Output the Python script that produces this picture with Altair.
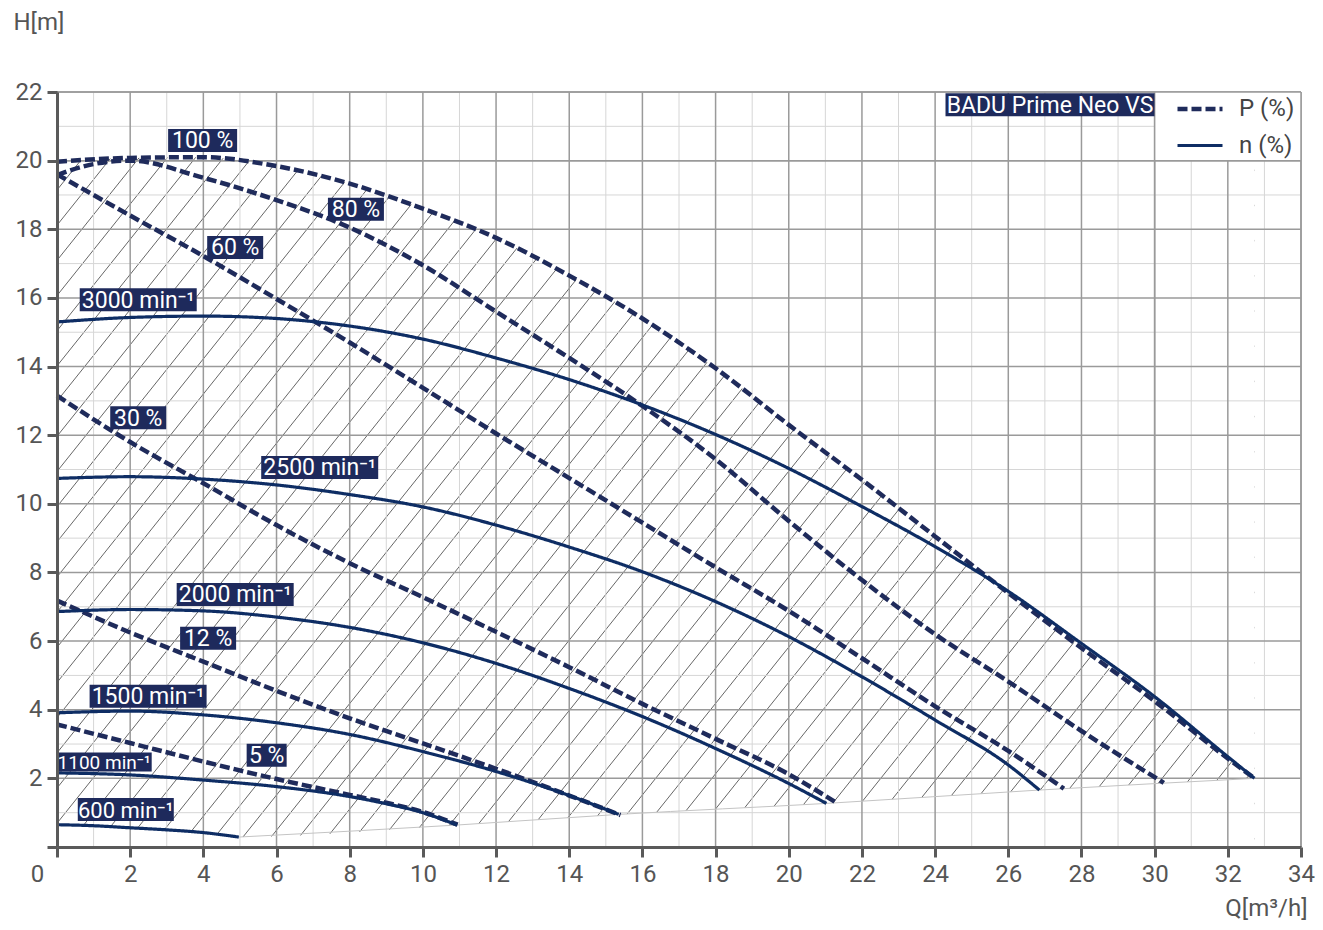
import altair as alt
import pandas as pd

# ---------------- data ----------------
# Power curves P (%) - dashed
P100_Q = [0, 2, 4, 6, 8, 10, 12, 14, 16, 18, 20, 22, 24, 26, 28, 30, 32, 32.73]
P100_H = [19.97, 20.08, 20.10, 19.84, 19.33, 18.60, 17.75, 16.65, 15.40, 13.95, 12.30, 10.70, 9.05, 7.40, 5.80, 4.25, 2.58, 2.00]
P80_Q = [0, 1, 2, 4, 6, 8, 10, 12, 14, 16, 18, 20, 22, 24, 26, 28, 30.25]
P80_H = [19.58, 19.90, 20.00, 19.50, 18.85, 18.05, 16.95, 15.60, 14.25, 12.85, 11.30, 9.50, 7.78, 6.20, 4.82, 3.38, 1.87]
P60_Q = [0, 2, 4, 6, 8, 10, 12, 14, 16, 18, 20, 22, 24, 26, 27.52]
P60_H = [19.60, 18.40, 17.22, 15.97, 14.70, 13.38, 12.05, 10.75, 9.45, 8.15, 6.88, 5.50, 4.10, 2.80, 1.70]
P30_Q = [0, 2, 4, 6, 8, 10, 12, 14, 16, 18, 20, 21.26]
P30_H = [13.15, 11.80, 10.60, 9.38, 8.27, 7.28, 6.27, 5.24, 4.17, 3.15, 2.12, 1.32]
P12_Q = [0, 2, 4, 6, 8, 10, 12, 14, 15.4]
P12_H = [7.18, 6.25, 5.40, 4.55, 3.75, 3.02, 2.28, 1.50, 0.93]
P5_Q = [0, 2, 4, 6, 8, 9, 10, 10.95]
P5_H = [3.57, 3.03, 2.49, 1.98, 1.52, 1.29, 1.02, 0.65]

# Speed curves n - solid
N3000_Q = [0, 2, 4, 6, 8, 10, 12, 14, 16, 18, 20, 22, 24, 26, 28, 30, 32, 32.73]
N3000_H = [15.30, 15.43, 15.47, 15.40, 15.18, 14.80, 14.25, 13.62, 12.88, 12.02, 11.03, 9.92, 8.75, 7.45, 5.93, 4.38, 2.63, 2.00]
N2500_Q = [0, 2, 4, 6, 8, 10, 12, 14, 16, 18, 20, 22, 24, 26, 26.85]
N2500_H = [10.74, 10.79, 10.72, 10.55, 10.27, 9.91, 9.38, 8.74, 8.02, 7.15, 6.13, 4.96, 3.70, 2.39, 1.66]
N2000_Q = [0, 2, 4, 6, 8, 10, 12, 14, 16, 18, 20, 21.03]
N2000_H = [6.86, 6.92, 6.88, 6.70, 6.40, 5.95, 5.35, 4.62, 3.80, 2.87, 1.85, 1.27]
N1500_Q = [0, 2, 4, 6, 8, 10, 12, 14, 15.35]
N1500_H = [3.91, 3.96, 3.85, 3.62, 3.28, 2.78, 2.20, 1.50, 0.95]
N1100_Q = [0, 2, 4, 6, 8, 9, 10, 10.93]
N1100_H = [2.16, 2.10, 1.95, 1.76, 1.47, 1.26, 1.00, 0.64]
N600_Q = [0, 1, 2, 3, 4, 4.97]
N600_H = [0.65, 0.62, 0.56, 0.50, 0.42, 0.29]

# Curve labels
LABEL_TEXT = ["100 %", "80 %", "60 %", "3000 min⁻¹", "30 %", "2500 min⁻¹", "2000 min⁻¹",
              "12 %", "1500 min⁻¹", "5 %", "1100 min⁻¹", "600 min⁻¹", "BADU Prime Neo VS"]
LABEL_Q = [3.98, 8.17, 4.87, 2.22, 2.22, 7.18, 4.87, 4.13, 2.49, 5.73, 1.29, 1.88, 27.14]
LABEL_H = [20.59, 18.58, 17.47, 15.95, 12.51, 11.06, 7.36, 6.08, 4.39, 2.67, 2.48, 1.09, 21.63]

# Axis ticks
X_MAJOR = list(range(0, 35, 2))
X_MINOR = list(range(1, 34, 2))
Y_MAJOR = list(range(0, 23, 2))
Y_MINOR = list(range(1, 22, 2))
KINDS = ["P (%)", "n (%)"]

# ---------------- styles ----------------
W, HGT = 1244, 755
FONT = "Roboto"
NAVY = "#1e2a5c"
DASH_COL = "#1f2b5b"
SOLID_COL = "#0e2d64"
TXT_GRAY = "#555555"
AX_GRAY = "#5a5a5a"
MAJOR_COL, MINOR_COL = "#9a9a9a", "#d6d6d6"
LEGEND_PANEL_Q = (30, 34)   # white panel behind the legend (grid cells)
LEGEND_PANEL_H = (20, 22)

# label box sizes (px) and font sizes
BOX_STYLE = {
    "100 %": (69, 23, 23), "80 %": (56, 23, 23), "60 %": (56, 23, 23), "30 %": (56, 23, 23),
    "12 %": (56, 23, 23), "5 %": (40, 23, 23),
    "3000 min⁻¹": (117, 23, 23), "2500 min⁻¹": (117, 23, 23), "2000 min⁻¹": (117, 23, 23),
    "1500 min⁻¹": (117, 23, 23), "1100 min⁻¹": (95, 19, 19), "600 min⁻¹": (96, 23, 22),
    "BADU Prime Neo VS": (209, 23, 23),
}

xs = alt.Scale(domain=[0, 34], nice=False, zero=False)
ys = alt.Scale(domain=[0, 22], nice=False, zero=False)

x_axis = alt.Axis(
    values=X_MAJOR, grid=False, domainColor=AX_GRAY, domainWidth=3, tickColor=AX_GRAY,
    tickWidth=3, tickSize=10, labelFont=FONT, labelFontSize=24, labelColor=TXT_GRAY,
    labelPadding=5, labelFlush=False, labelOverlap=False,
    labelOffset={"condition": {"test": "datum.value == 0", "value": -20}, "value": 0},
    title="Q[m³/h]", titleFont=FONT, titleFontSize=24, titleFontWeight="normal",
    titleColor=TXT_GRAY, titleX=W + 6, titleY=61, titleAlign="right",
    titleBaseline="middle", zindex=1,
)
y_axis = alt.Axis(
    values=Y_MAJOR, grid=False, domainColor=AX_GRAY, domainWidth=3, tickColor=AX_GRAY,
    tickWidth=3, tickSize=10, labelFont=FONT, labelFontSize=24, labelColor=TXT_GRAY,
    labelPadding=5, labelFlush=False, labelOverlap=False,
    labelExpr="datum.value == 0 ? '' : datum.label",
    title="H[m]", titleFont=FONT, titleFontSize=24, titleFontWeight="normal",
    titleColor=TXT_GRAY, titleX=-44, titleY=-70, titleAngle=0, titleAlign="left",
    titleBaseline="middle", zindex=1,
)


def X(field="Q"):
    return alt.X(field, type="quantitative", scale=xs, axis=x_axis)


def Y(field="H"):
    return alt.Y(field, type="quantitative", scale=ys, axis=y_axis)


# ---------------- tables ----------------
P_CURVES = [("P100", P100_Q, P100_H), ("P80", P80_Q, P80_H), ("P60", P60_Q, P60_H),
            ("P30", P30_Q, P30_H), ("P12", P12_Q, P12_H), ("P5", P5_Q, P5_H)]
N_CURVES = [("N3000", N3000_Q, N3000_H), ("N2500", N2500_Q, N2500_H), ("N2000", N2000_Q, N2000_H),
            ("N1500", N1500_Q, N1500_H), ("N1100", N1100_Q, N1100_H), ("N600", N600_Q, N600_H)]

rows = []
for name, qs, hs in P_CURVES:
    rows += [{"curve": name, "kind": KINDS[0], "Q": q, "H": h} for q, h in zip(qs, hs)]
for name, qs, hs in N_CURVES:
    rows += [{"curve": name, "kind": KINDS[1], "Q": q, "H": h} for q, h in zip(qs, hs)]
curves_df = pd.DataFrame(rows)

top_df = pd.DataFrame({"Q": P100_Q, "H": P100_H})
# lower limit: 600 min-1 curve, then the end points of the other speed curves
ends = sorted([(qs[-1], hs[-1]) for nm, qs, hs in N_CURVES if nm != "N600"])
bottom_df = pd.DataFrame({"Q": N600_Q + [e[0] for e in ends], "H": N600_H + [e[1] for e in ends]})
limit_df = pd.DataFrame({"Q": [N600_Q[-1]] + [e[0] for e in ends], "H": [N600_H[-1]] + [e[1] for e in ends]})

# ---------------- layers ----------------
SLOPE = 1.333   # hatch slope in data units (H per Q)
STEP = 0.769    # hatch spacing along Q
hatch = alt.Chart(alt.sequence(-22, 46, 1, as_="k")).transform_calculate(
    Q=f"datum.k * {STEP} + 0.25", H="0",
    Q2=f"datum.k * {STEP} + 0.25 + 22 / {SLOPE}", H2="22",
).mark_rule(clip=True, stroke="#555555", strokeWidth=0.9).encode(
    x=X("Q"), y=Y("H"), x2="Q2:Q", y2="H2:Q"
)

top_mask = alt.Chart(top_df).mark_area(color="white", interpolate="monotone").encode(
    x=X(), y=Y(), y2=alt.datum(22)
)
right_mask = alt.Chart(pd.DataFrame({"Q": [P100_Q[-1]]})).mark_rect(color="white").encode(
    x=X(), x2=alt.datum(34), y=alt.value(0), y2=alt.value(HGT)
)
bottom_mask = alt.Chart(bottom_df).mark_area(color="white", interpolate="monotone").encode(
    x=X(), y=Y(), y2=alt.datum(0)
)


def vrules(vals, col, w):
    return alt.Chart(pd.DataFrame({"Q": vals})).mark_rule(color=col, strokeWidth=w).encode(x=X())


def hrules(vals, col, w):
    return alt.Chart(pd.DataFrame({"H": vals})).mark_rule(color=col, strokeWidth=w).encode(y=Y())


minor_v = vrules(X_MINOR, MINOR_COL, 1)
minor_h = hrules(Y_MINOR, MINOR_COL, 1)
major_v = vrules(X_MAJOR[1:], MAJOR_COL, 1.5)
major_h = hrules(Y_MAJOR[1:], MAJOR_COL, 1.5)

legend_panel = alt.Chart(pd.DataFrame({"Q": [LEGEND_PANEL_Q[0]], "Q2": [LEGEND_PANEL_Q[1]],
                                       "H": [LEGEND_PANEL_H[0]], "H2": [LEGEND_PANEL_H[1]]})
                         ).mark_rect(color="white").encode(x=X(), x2="Q2", y=Y(), y2="H2")
panel_v = vrules(list(LEGEND_PANEL_Q), MAJOR_COL, 1.5)
panel_h = alt.Chart(pd.DataFrame({"H": list(LEGEND_PANEL_H)})).mark_rule(
    color=MAJOR_COL, strokeWidth=1.5).encode(y=Y(), x=alt.value(0), x2=alt.value(W))

limit_line = alt.Chart(limit_df).mark_line(color="#c4c4c4", strokeWidth=1, interpolate="monotone").encode(
    x=X(), y=Y()
)

legend = alt.Legend(
    title=None, orient="none", legendX=1116, legendY=-10, direction="vertical",
    symbolType="stroke", symbolSize=2025, symbolStrokeWidth=4,
    labelFont=FONT, labelFontSize=24, labelColor="#444444",
    labelOffset=14, rowPadding=-5, padding=2,
)

curves = alt.Chart(curves_df).mark_line(interpolate="monotone").encode(
    x=X(), y=Y(), detail="curve:N",
    color=alt.Color("kind:N", scale=alt.Scale(domain=KINDS, range=[DASH_COL, SOLID_COL]), legend=legend),
    strokeDash=alt.StrokeDash("kind:N", scale=alt.Scale(domain=KINDS, range=[[10, 4], [1, 0]]), legend=legend),
    strokeWidth=alt.StrokeWidth("kind:N", scale=alt.Scale(domain=KINDS, range=[4.5, 3.2]), legend=None),
)

layers = [hatch, top_mask, right_mask, bottom_mask, minor_v, minor_h, major_v, major_h,
          legend_panel, panel_v, panel_h, limit_line, curves]

for text, q, h in zip(LABEL_TEXT, LABEL_Q, LABEL_H):
    bw, bh, fs = BOX_STYLE[text]
    d = pd.DataFrame({"Q": [q], "H": [h], "text": [text]})
    box = alt.Chart(d).mark_rect(
        color=NAVY, xOffset=-bw / 2, x2Offset=bw / 2, yOffset=-bh / 2, y2Offset=bh / 2
    ).encode(x=X(), x2="Q", y=Y(), y2="H")
    lab = alt.Chart(d).mark_text(
        color="white", font=FONT, fontSize=fs, align="center", baseline="middle", dy=1
    ).encode(x=X(), y=Y(), text="text:N")
    layers += [box, lab]

chart = alt.layer(*layers).properties(
    width=W, height=HGT,
    autosize=alt.AutoSizeParams(type="none"),
    padding={"left": 49, "top": 84, "right": 14, "bottom": 75},
    background="white",
).configure_view(stroke=None)

chart.save("out.html", embed_options={"renderer": "svg", "actions": False})
